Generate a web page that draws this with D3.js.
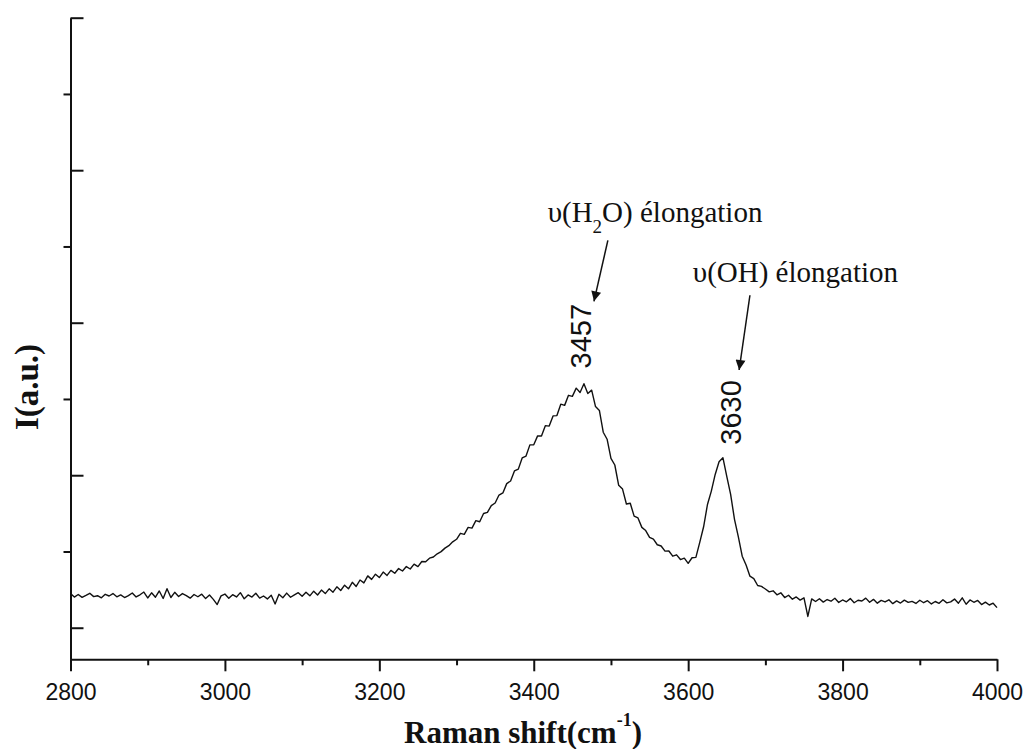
<!DOCTYPE html>
<html>
<head>
<meta charset="utf-8">
<script src="https://cdn.jsdelivr.net/npm/d3@7"></script>
<style>
  html, body { margin: 0; padding: 0; background: #fff; }
  svg { display: block; }
</style>
</head>
<body>
<div id="chart"></div>
<script>
// Raman spectrum (every 5 cm-1 from 2800 to 4000)
const shiftStart = 2800;
const shiftStep = 5;
const intensity = [
  22.5, 20.1, 21.8, 19.9, 21.2, 22.6, 20.4, 21.0, 19.6, 21.9, // 2800-2845
  20.8, 22.4, 20.3, 21.5, 19.8, 21.1, 22.8, 20.2, 21.6, 23.4, // 2850-2895
  19.5, 22.9, 20.0, 24.1, 19.2, 25.6, 19.8, 23.2, 20.5, 22.4, // 2900-2945
  21.1, 19.4, 21.8, 20.3, 22.0, 19.1, 21.4, 18.6, 15.2, 20.9, // 2950-2995
  22.1, 19.3, 21.7, 20.2, 23.0, 19.0, 21.5, 20.1, 22.6, 19.4, // 3000-3045
  20.8, 18.9, 21.3, 15.6, 21.9, 19.7, 22.7, 20.0, 21.6, 23.0, // 3050-3095
  20.6, 23.3, 20.9, 24.0, 21.5, 24.7, 22.4, 25.5, 23.3, 26.8, // 3100-3145
  24.4, 27.9, 25.5, 29.8, 27.1, 31.3, 29.4, 34.0, 31.7, 35.1, // 3150-3195
  32.9, 36.5, 34.3, 37.6, 35.7, 38.8, 37.2, 40.1, 38.5, 41.7, // 3200-3245
  40.1, 43.4, 43.3, 45.6, 46.4, 48.5, 49.9, 52.2, 53.8, 56.3, // 3250-3295
  58.0, 61.9, 61.2, 65.8, 65.3, 70.2, 69.5, 74.9, 75.6, 80.1, // 3300-3345
  81.8, 87.0, 88.4, 94.5, 96.2, 102.8, 104.0, 111.3, 112.6, 119.9, // 3350-3395
  120.0, 125.8, 125.7, 132.5, 132.2, 138.9, 139.1, 146.6, 145.8, 152.4, // 3400-3445
  151.7, 157.1, 154.3, 160.0, 153.6, 155.8, 145.0, 142.5, 128.2, 123.6, // 3450-3495
  111.0, 106.7, 93.4, 90.9, 81.1, 81.6, 73.2, 72.0, 65.8, 63.7, // 3500-3545
  59.3, 58.1, 54.4, 53.6, 50.2, 50.3, 46.9, 47.8, 44.7, 45.6, // 3550-3595
  42.2, 45.9, 46.1, 56.0, 66.2, 80.8, 89.6, 100.5, 108.8, 111.5, // 3600-3645
  99.2, 87.4, 71.1, 59.6, 46.9, 41.1, 33.8, 32.2, 27.7, 27.1, // 3650-3695
  25.4, 23.5, 24.2, 21.6, 22.9, 19.8, 21.3, 18.7, 20.2, 18.1, // 3700-3745
  19.6, 7.4, 18.9, 17.2, 19.0, 16.8, 18.5, 17.4, 19.3, 16.6, // 3750-3795
  18.2, 17.0, 19.1, 16.4, 18.0, 17.5, 19.4, 16.7, 18.6, 16.1, // 3800-3845
  17.9, 16.9, 18.3, 15.8, 17.6, 16.2, 18.1, 16.6, 17.3, 15.9, // 3850-3895
  18.0, 16.4, 17.7, 15.6, 17.2, 16.0, 18.4, 16.3, 17.0, 18.8, // 3900-3945
  16.1, 19.6, 15.4, 18.2, 16.7, 17.9, 15.2, 16.8, 14.9, 16.1, // 3950-3995
  13.2                                                          // 4000
];

const xMajorTicks = [2800, 3000, 3200, 3400, 3600, 3800, 4000];
const xMinorTicks = [2900, 3100, 3300, 3500, 3700, 3900];
const yMajorTicks = [0, 100, 200, 300, 400];
const yMinorTicks = [50, 150, 250, 350];

const peakLabels = ["3457", "3630"];
const modeLabels = ["H2O", "OH"];

const spectrum = intensity.map((v, i) => ({ shift: shiftStart + i * shiftStep, value: v }));

const W = 1026, H = 749;
const margin = { top: 17.7, right: 29, bottom: 89.7, left: 70.5 };
const width = W - margin.left - margin.right;
const height = H - margin.top - margin.bottom;

const svg = d3.select("#chart").append("svg")
  .attr("width", W)
  .attr("height", H);

const g = svg.append("g")
  .attr("transform", `translate(${margin.left},${margin.top})`);

const x = d3.scaleLinear().domain([2800, 4000]).range([0, width]);
const y = d3.scaleLinear().domain([-20.7, 400]).range([height, 0]);

// spectrum line
const line = d3.line()
  .x(d => x(d.shift))
  .y(d => y(d.value));

g.append("path")
  .datum(spectrum)
  .attr("fill", "none")
  .attr("stroke", "#111")
  .attr("stroke-width", 1.4)
  .attr("stroke-linejoin", "round")
  .attr("d", line);

// axes
const sansFont = "'Liberation Sans', Arial, sans-serif";
const serifFont = "'Liberation Serif', 'Times New Roman', serif";

function styleAxis(sel) {
  sel.selectAll("path.domain").attr("stroke", "#111").attr("stroke-width", 2);
  sel.selectAll(".tick line").attr("stroke", "#111").attr("stroke-width", 2);
}

const xAxisG = g.append("g")
  .attr("transform", `translate(0,${height})`)
  .call(d3.axisBottom(x).tickValues(xMajorTicks).tickSize(12).tickSizeOuter(0).tickPadding(12)
    .tickFormat(d3.format("d")));
xAxisG.selectAll("text")
  .attr("font-family", sansFont)
  .attr("font-size", 23)
  .attr("fill", "#111");
styleAxis(xAxisG);

const xMinorG = g.append("g")
  .attr("transform", `translate(0,${height})`)
  .call(d3.axisBottom(x).tickValues(xMinorTicks).tickSize(6).tickSizeOuter(0).tickFormat(""));
xMinorG.select("path.domain").remove();
styleAxis(xMinorG);

// y: major ticks point inward, minor ticks outward, no labels
const yAxisG = g.append("g")
  .call(d3.axisLeft(y).tickValues(yMajorTicks).tickSize(-13).tickSizeOuter(0).tickFormat(""));
styleAxis(yAxisG);

const yMinorG = g.append("g")
  .call(d3.axisLeft(y).tickValues(yMinorTicks).tickSize(7).tickSizeOuter(0).tickFormat(""));
yMinorG.select("path.domain").remove();
styleAxis(yMinorG);

// axis titles
const xTitle = svg.append("text")
  .attr("x", 523)
  .attr("y", 743)
  .attr("text-anchor", "middle")
  .attr("font-family", serifFont)
  .attr("font-weight", "bold")
  .attr("font-size", 31)
  .attr("fill", "#111");
xTitle.append("tspan").text("Raman shift(cm");
xTitle.append("tspan").attr("font-size", 18).attr("dy", -17).text("-1");
xTitle.append("tspan").attr("dy", 17).text(")");

svg.append("text")
  .attr("transform", "translate(38,387) rotate(-90)")
  .attr("text-anchor", "middle")
  .attr("font-family", serifFont)
  .attr("font-weight", "bold")
  .attr("font-size", 33)
  .attr("fill", "#111")
  .text("I(a.u.)");

// peak annotations (placed in data coordinates)
const peakAnchors = [
  { label: peakLabels[0], x: 3474, y: 170, arrowFrom: [3496, 254], arrowTo: [3478, 214], text: [3418, 266] },
  { label: peakLabels[1], x: 3668, y: 120, arrowFrom: [3680, 218], arrowTo: [3666, 169], text: [3606, 227] }
];

svg.append("defs").append("marker")
  .attr("id", "arrowhead")
  .attr("viewBox", "0 0 10 10")
  .attr("refX", 10)
  .attr("refY", 5)
  .attr("markerWidth", 15)
  .attr("markerHeight", 10)
  .attr("markerUnits", "userSpaceOnUse")
  .attr("orient", "auto")
  .append("path")
  .attr("d", "M0,0 L10,5 L0,10 Z")
  .attr("fill", "#111");

peakAnchors.forEach((p, i) => {
  g.append("text")
    .attr("transform", `translate(${x(p.x)},${y(p.y)}) rotate(-90)`)
    .attr("font-family", sansFont)
    .attr("font-size", 29)
    .attr("fill", "#111")
    .text(p.label);

  g.append("line")
    .attr("x1", x(p.arrowFrom[0])).attr("y1", y(p.arrowFrom[1]))
    .attr("x2", x(p.arrowTo[0])).attr("y2", y(p.arrowTo[1]))
    .attr("stroke", "#111")
    .attr("stroke-width", 1.5)
    .attr("marker-end", "url(#arrowhead)");

  const t = g.append("text")
    .attr("x", x(p.text[0]))
    .attr("y", y(p.text[1]))
    .attr("font-family", serifFont)
    .attr("font-size", 29)
    .attr("fill", "#111");
  t.append("tspan").text("\u03c5(");
  if (modeLabels[i] === "H2O") {
    t.append("tspan").text("H");
    t.append("tspan").attr("font-size", 19).attr("dy", 11).text("2");
    t.append("tspan").attr("dy", -11).text("O");
  } else {
    t.append("tspan").text(modeLabels[i]);
  }
  t.append("tspan").text(") élongation");
});
</script>
</body>
</html>
